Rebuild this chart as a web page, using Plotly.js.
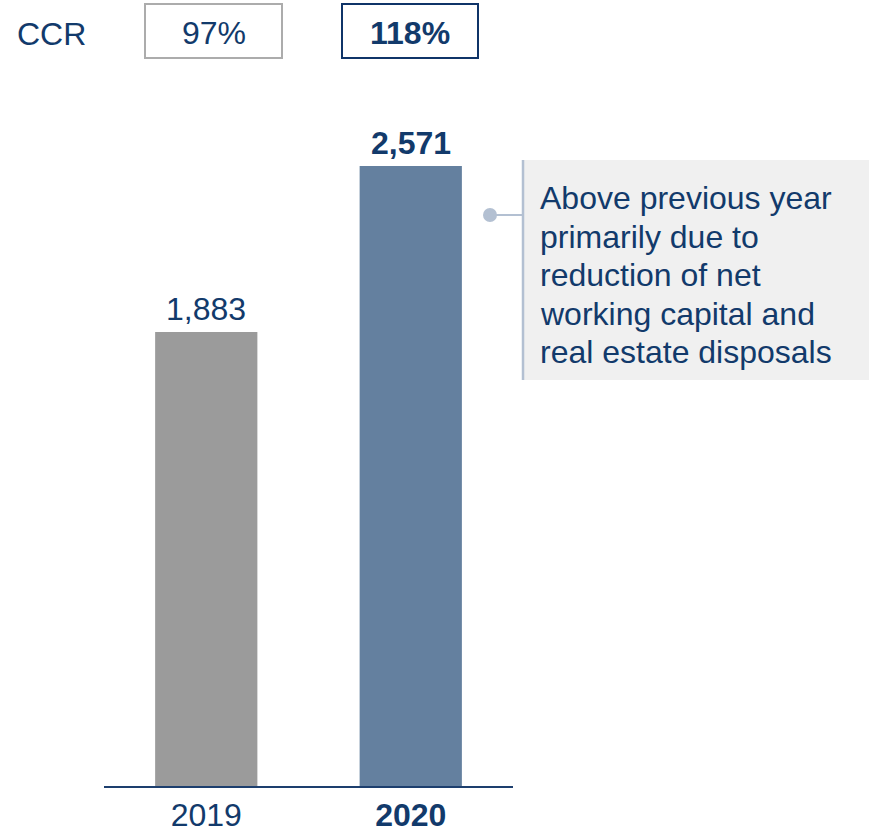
<!DOCTYPE html>
<html>
<head>
<meta charset="utf-8">
<script src="https://cdn.plot.ly/plotly-3.0.1.min.js"></script>
<style>html,body{margin:0;padding:0;background:#fff;}#chart{width:869px;height:832px;}</style>
</head>
<body>
<div id="chart"></div>
<script>
const years = ['2019', '2020'];
const values = [1883, 2571];
const ccr = ['97%', '118%'];
const barColors = ['#9b9b9b', '#64809f'];
const noteLines = ['Above previous year', 'primarily due to', 'reduction of net', 'working capital and', 'real estate disposals'];

const NAVY = '#123a6b';
const FONT = 'Arial, "Liberation Sans", sans-serif';
const FS = 32;
const fmt = v => v.toLocaleString('en-US');
const isCurrent = i => i === years.length - 1;

// pixel -> paper helpers (plot area: x 104..513, y 100..786)
const PX = px => (px - 104) / 409;
const PY = py => (786 - py) / 686;

const trace = {
  type: 'bar',
  x: years.map((y, i) => i),
  y: values,
  marker: {color: barColors, line: {width: 0}},
  hoverinfo: 'none'
};

const annotations = years.map((y, i) => ({
  x: i, y: values[i], xref: 'x', yref: 'y',
  text: isCurrent(i) ? '<b>' + fmt(values[i]) + '</b>' : fmt(values[i]),
  showarrow: false, xanchor: 'center', yanchor: 'bottom', yshift: 3,
  font: {family: FONT, size: FS, color: NAVY}
}));

// CCR row
annotations.push({
  x: PX(51), y: PY(34), xref: 'paper', yref: 'paper',
  text: 'CCR', showarrow: false, xanchor: 'center', yanchor: 'middle',
  font: {family: FONT, size: FS, color: NAVY}
});
const boxX = [[PX(145), PX(282)], [PX(342), PX(478)]];
ccr.forEach((c, i) => {
  annotations.push({
    x: (boxX[i][0] + boxX[i][1]) / 2, y: PY(33), xref: 'paper', yref: 'paper',
    text: isCurrent(i) ? '<b>' + c + '</b>' : c, showarrow: false,
    xanchor: 'center', yanchor: 'middle',
    font: {family: FONT, size: FS, color: NAVY}
  });
});

// Commentary, one line each (line pitch 38.5px)
noteLines.forEach((t, k) => {
  annotations.push({
    x: PX(538), y: PY(198 + k * 38.5), xref: 'paper', yref: 'paper',
    text: t, showarrow: false, xanchor: 'left', yanchor: 'middle', align: 'left',
    font: {family: FONT, size: FS, color: NAVY}
  });
});

const shapes = [
  {type: 'rect', xref: 'paper', yref: 'paper', x0: boxX[0][0], x1: boxX[0][1], y0: PY(58), y1: PY(4),
   line: {color: '#acacac', width: 2}, fillcolor: 'rgba(0,0,0,0)'},
  {type: 'rect', xref: 'paper', yref: 'paper', x0: boxX[1][0], x1: boxX[1][1], y0: PY(58), y1: PY(4),
   line: {color: '#0f3468', width: 2}, fillcolor: 'rgba(0,0,0,0)'},
  {type: 'rect', xref: 'paper', yref: 'paper', x0: PX(523), x1: PX(869), y0: PY(380), y1: PY(160),
   line: {width: 0}, fillcolor: '#f0f0f0', layer: 'below'},
  {type: 'line', xref: 'paper', yref: 'paper', x0: PX(523), x1: PX(523), y0: PY(380), y1: PY(160),
   line: {color: '#b3c0d2', width: 2.5}},
  {type: 'line', xref: 'paper', yref: 'paper', x0: PX(490), x1: PX(523), y0: PY(215), y1: PY(215),
   line: {color: '#b3c0d2', width: 2}},
  {type: 'circle', xref: 'paper', yref: 'paper', xsizemode: 'pixel', ysizemode: 'pixel',
   xanchor: PX(490), yanchor: PY(215), x0: -7, x1: 7, y0: -7, y1: 7,
   line: {width: 0}, fillcolor: '#b3c0d2'}
];

const layout = {
  width: 869, height: 832,
  margin: {l: 104, r: 356, t: 100, b: 46, pad: 0},
  paper_bgcolor: '#ffffff', plot_bgcolor: '#ffffff',
  showlegend: false,
  bargap: 0.5,
  xaxis: {
    type: 'linear', range: [-0.5, 1.5], fixedrange: true,
    showline: true, linecolor: '#1d3f6e', linewidth: 2,
    showgrid: false, zeroline: false, ticks: '',
    tickmode: 'array', tickvals: years.map((y, i) => i),
    ticktext: years.map((y, i) => isCurrent(i) ? '<b>' + y + '</b>' : y),
    tickfont: {family: FONT, size: FS, color: NAVY},
    automargin: false
  },
  yaxis: {
    range: [0, 2845], visible: false, showgrid: false, zeroline: false, fixedrange: true
  },
  annotations: annotations,
  shapes: shapes,
  font: {family: FONT, color: NAVY}
};

Plotly.newPlot('chart', [trace], layout, {displayModeBar: false, staticPlot: true});
</script>
</body>
</html>
